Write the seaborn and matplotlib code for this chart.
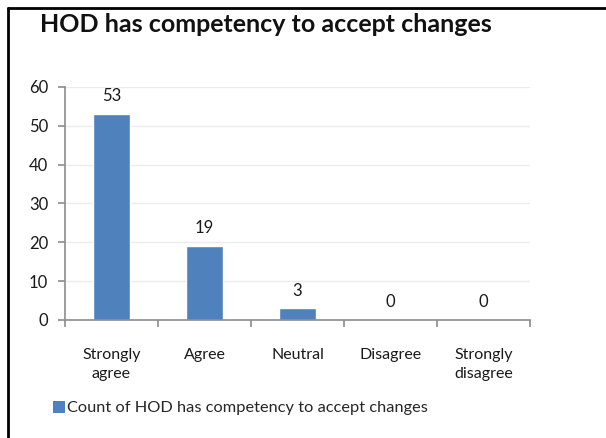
import matplotlib
matplotlib.use("Agg")
import matplotlib.pyplot as plt
import seaborn as sns
import pandas as pd
from matplotlib.patches import Patch
from matplotlib.lines import Line2D

categories = ["Strongly\nagree", "Agree", "Neutral", "Disagree", "Strongly\ndisagree"]
counts = [53, 19, 3, 0, 0]
series_name = "Count of HOD has competency to accept changes"
title = "HOD has competency to accept changes"
yticks = [0, 10, 20, 30, 40, 50, 60]

sns.set_theme(style="white")
plt.rcParams['font.family'] = ['Lato', 'DejaVu Sans']

df = pd.DataFrame({"cat": categories, "count": counts})
bar_color = "#4F81BD"
txt = "#1A1A1A"

fig = plt.figure(figsize=(6.06, 4.38), dpi=100)
ax = fig.add_axes([65/606, 1-320/438, (530-65)/606, (320-87)/438])
sns.barplot(data=df, x="cat", y="count", color=bar_color, width=0.4, ax=ax,
            saturation=1)

ax.set_ylim(0, 60)
ax.set_xlim(-0.5, 4.5)
ax.set_yticks(yticks)
ax.set_yticklabels([str(v) for v in yticks], fontsize=12, color=txt)
ax.set_xticks(range(len(categories)))
ax.set_xticklabels(categories, fontsize=11.5, color=txt, linespacing=1.45)
ax.set_xlabel("")
ax.set_ylabel("")
for y in yticks[1:]:
    ax.axhline(y, color="#EBEBEB", lw=1, zorder=0)

for s in ["top", "right"]:
    ax.spines[s].set_visible(False)
for s in ["left", "bottom"]:
    ax.spines[s].set_color("#8C8C8C")
    ax.spines[s].set_linewidth(1.2)

ax.tick_params(axis="y", which="major", length=5, width=1.2, color="#8C8C8C", left=True, pad=7)
ax.tick_params(axis="x", which="major", length=0, pad=20)
ax.set_xticks([i - 0.5 for i in range(len(categories) + 1)], minor=True)
ax.tick_params(axis="x", which="minor", length=5, width=1.2, color="#8C8C8C", bottom=True)

for i, v in enumerate(counts):
    ax.annotate(str(v), (i, v), xytext=(0, 7), textcoords="offset points",
                ha="center", va="bottom", fontsize=12, color=txt)

fig.text(40/606, 1-25/438, title, fontsize=18, fontweight="bold", ha="left", va="center",
         color="#111111")

handles = [Patch(facecolor=bar_color, edgecolor="none", label=series_name)]
fig.legend(handles=handles, loc="center left", bbox_to_anchor=(46/606, 1-408/438),
           frameon=False, fontsize=11.8, handlelength=0.75, handleheight=0.75,
           handletextpad=0.15, borderaxespad=0)

fig.add_artist(Line2D([7.5/606, 7.5/606], [0, 1-8/438], transform=fig.transFigure,
                      color="black", lw=2))
fig.add_artist(Line2D([7.5/606, 1], [1-8/438, 1-8/438], transform=fig.transFigure,
                      color="black", lw=2))

fig.savefig("out.png", dpi=100)
